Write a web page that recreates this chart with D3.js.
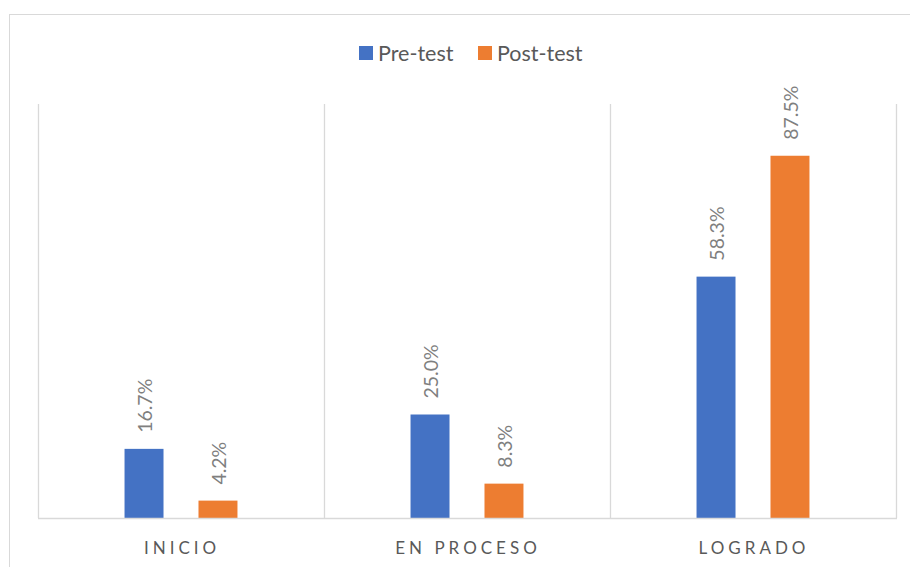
<!DOCTYPE html>
<html>
<head>
<meta charset="utf-8">
<script src="https://cdn.jsdelivr.net/npm/d3@7"></script>
<style>
  html, body { margin: 0; padding: 0; background: #fff; }
  svg { display: block; }
</style>
</head>
<body>
<div id="chart"></div>
<script>
(function () {
  "use strict";

  // --- Data ---
  const categories = ["INICIO", "EN PROCESO", "LOGRADO"];
  const seriesNames = ["Pre-test", "Post-test"];
  const preTest = [0.167, 0.25, 0.583];
  const postTest = [0.042, 0.083, 0.875];
  const seriesColors = ["#4472C4", "#ED7D31"];

  const W = 910, H = 567;
  const font = "Lato, 'Open Sans', sans-serif";

  const svg = d3.select("#chart").append("svg")
    .attr("width", W).attr("height", H);

  // outer chart border (only left/top edges fall inside the picture)
  svg.append("rect")
    .attr("x", 9.5).attr("y", 14.5)
    .attr("width", 1000).attr("height", 1000)
    .attr("fill", "none").attr("stroke", "#d9d9d9").attr("stroke-width", 1);

  // --- Scales ---
  const x0 = d3.scaleBand().domain(categories).range([38, 896]).padding(0);
  const x1 = d3.scaleBand().domain(seriesNames)
    .range([0, x0.bandwidth()])
    .paddingInner(0.473).paddingOuter(1.17);
  const y = d3.scaleLinear().domain([0, 1]).range([518, 104]);

  // --- Vertical category separators ---
  const seps = categories.map((c) => x0(c)).concat([x0.range()[1]]);
  svg.append("g").selectAll("line").data(seps).join("line")
    .attr("x1", (d) => d + 0.5).attr("x2", (d) => d + 0.5)
    .attr("y1", y(1)).attr("y2", y(0))
    .attr("stroke", "#d9d9d9").attr("stroke-width", 1.3);

  // --- Bars ---
  const rows = categories.map((c, i) => ({ cat: c, values: [preTest[i], postTest[i]] }));
  const groups = svg.append("g").selectAll("g").data(rows).join("g")
    .attr("transform", (d) => `translate(${x0(d.cat)},0)`);

  groups.selectAll("rect")
    .data((d) => d.values.map((v, j) => ({ s: seriesNames[j], v, j })))
    .join("rect")
    .attr("x", (d) => x1(d.s))
    .attr("width", x1.bandwidth())
    .attr("y", (d) => y(d.v))
    .attr("height", (d) => y(0) - y(d.v))
    .attr("fill", (d) => seriesColors[d.j]);

  // rotated value labels
  groups.selectAll("text")
    .data((d) => d.values.map((v, j) => ({ s: seriesNames[j], v, j })))
    .join("text")
    .attr("transform", (d) =>
      `translate(${x1(d.s) + x1.bandwidth() / 2 + 1},${y(d.v) - 16}) rotate(-90)`)
    .attr("dy", "0.35em")
    .attr("text-anchor", "start")
    .attr("fill", "#7f7f7f")
    .attr("font-family", font)
    .attr("font-size", "19.5px")
    .text((d) => d3.format(".1%")(d.v));

  // baseline
  svg.append("line")
    .attr("x1", x0.range()[0]).attr("x2", x0.range()[1] + 1)
    .attr("y1", y(0) + 0.5).attr("y2", y(0) + 0.5)
    .attr("stroke", "#d9d9d9").attr("stroke-width", 1.5);

  // --- Category axis ---
  const xAxis = svg.append("g")
    .attr("transform", `translate(0,${y(0)})`)
    .call(d3.axisBottom(x0).tickSize(0).tickPadding(0));
  xAxis.select(".domain").remove();
  xAxis.selectAll("text")
    .attr("y", 36)
    .attr("dy", 0)
    .attr("fill", "#595959")
    .attr("font-family", font)
    .attr("font-size", "17px")
    .attr("letter-spacing", "4px")
    .attr("dx", "1px");

  // --- Legend ---
  const legendItems = [
    { name: seriesNames[0], color: seriesColors[0], x: 359 },
    { name: seriesNames[1], color: seriesColors[1], x: 478 },
  ];
  const legend = svg.append("g").selectAll("g").data(legendItems).join("g")
    .attr("transform", (d) => `translate(${d.x},46)`);
  legend.append("rect")
    .attr("width", 14).attr("height", 14)
    .attr("fill", (d) => d.color);
  legend.append("text")
    .attr("x", 19).attr("y", 15)
    .attr("fill", "#595959")
    .attr("font-family", font)
    .attr("font-size", "21.5px")
    .text((d) => d.name);
})();
</script>
</body>
</html>
